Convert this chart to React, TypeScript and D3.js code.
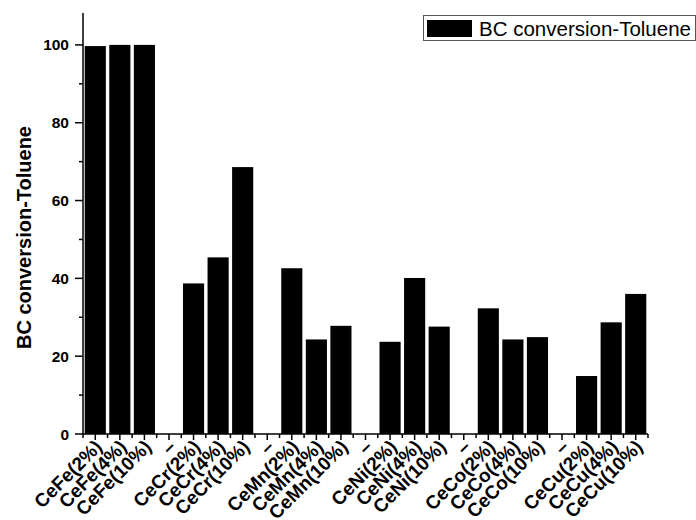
import React from "react";
import * as d3 from "d3";

// Catalyst samples along the x axis; "–" entries are spacer slots between metal groups
const categories = [
  "CeFe(2%)", "CeFe(4%)", "CeFe(10%)", "–",
  "CeCr(2%)", "CeCr(4%)", "CeCr(10%)", "–",
  "CeMn(2%)", "CeMn(4%)", "CeMn(10%)", "–",
  "CeNi(2%)", "CeNi(4%)", "CeNi(10%)", "–",
  "CeCo(2%)", "CeCo(4%)", "CeCo(10%)", "–",
  "CeCu(2%)", "CeCu(4%)", "CeCu(10%)",
];

// BC conversion of toluene (%) per sample; null = spacer
const conversion: (number | null)[] = [
  99.7, 100, 100, null,
  38.7, 45.4, 68.6, null,
  42.6, 24.3, 27.8, null,
  23.7, 40.1, 27.6, null,
  32.3, 24.3, 24.9, null,
  14.9, 28.7, 36.0,
];

const yMajorTicks = [0, 20, 40, 60, 80, 100];
const yMinorTicks = [10, 30, 50, 70, 90];
const seriesName = "BC conversion-Toluene";
const yTitle = "BC conversion-Toluene";

const W = 696;
const H = 520;
const left = 83;
const right = 648;
const top = 13;
const bottom = 434;

export default function App() {
  const idx = categories.map((_, i) => String(i));
  const x = d3.scaleBand<string>().domain(idx).range([left, right]).padding(0);
  const y = d3.scaleLinear().domain([0, 108.2]).range([bottom, top]);
  const step = x.step();
  const barW = step * 0.86;
  const boundaries = d3.range(categories.length + 1).map((i) => left + i * step);
  const font = "Arial, 'Liberation Sans', Helvetica, sans-serif";

  return (
    <svg
      width={W}
      height={H}
      style={{ position: "absolute", left: 0, top: 0, background: "#fff" }}
      fontFamily={font}
    >
      {/* bars */}
      {conversion.map((v, i) =>
        v == null ? null : (
          <rect
            key={i}
            x={(x(String(i)) as number) + (step - barW) / 2}
            y={y(v)}
            width={barW}
            height={y(0) - y(v)}
            fill="#000"
          />
        )
      )}

      {/* y axis */}
      <line x1={left} x2={left} y1={top} y2={bottom} stroke="#000" strokeWidth={1.5} />
      {yMajorTicks.map((t) => (
        <g key={"ym" + t}>
          <line x1={left - 8} x2={left} y1={y(t)} y2={y(t)} stroke="#000" strokeWidth={1.5} />
          <text
            x={left - 14}
            y={y(t)}
            dy="0.36em"
            textAnchor="end"
            fontSize={15.5}
            fontWeight="bold"
          >
            {t}
          </text>
        </g>
      ))}
      {yMinorTicks.map((t) => (
        <line key={"yn" + t} x1={left - 4} x2={left} y1={y(t)} y2={y(t)} stroke="#000" strokeWidth={1.5} />
      ))}
      <text
        transform={`translate(31,${(top + bottom) / 2 + 14}) rotate(-90)`}
        textAnchor="middle"
        fontSize={20}
        fontWeight="bold"
      >
        {yTitle}
      </text>

      {/* x axis */}
      <line x1={left} x2={right} y1={bottom} y2={bottom} stroke="#000" strokeWidth={1.5} />
      {boundaries.map((b, i) => (
        <line key={"xb" + i} x1={b} x2={b} y1={bottom} y2={bottom + 4} stroke="#000" strokeWidth={1.5} />
      ))}
      {idx.map((k, i) => {
        const cx = (x(k) as number) + step / 2;
        return (
          <g key={"xt" + i}>
            <line x1={cx} x2={cx} y1={bottom} y2={bottom + 6} stroke="#000" strokeWidth={1.5} />
            <text
              transform={`translate(${cx + 8},${bottom + 14}) rotate(-45)`}
              textAnchor="end"
              fontSize={19}
              fontWeight="bold"
            >
              {categories[i]}
            </text>
          </g>
        );
      })}

      {/* legend */}
      <rect x={423.5} y={15.5} width={272} height={25} fill="#fff" stroke="#555" strokeWidth={1} />
      <rect x={427} y={20} width={45} height={17} fill="#000" />
      <text x={479} y={35.5} fontSize={20.5}>
        {seriesName}
      </text>
    </svg>
  );
}
